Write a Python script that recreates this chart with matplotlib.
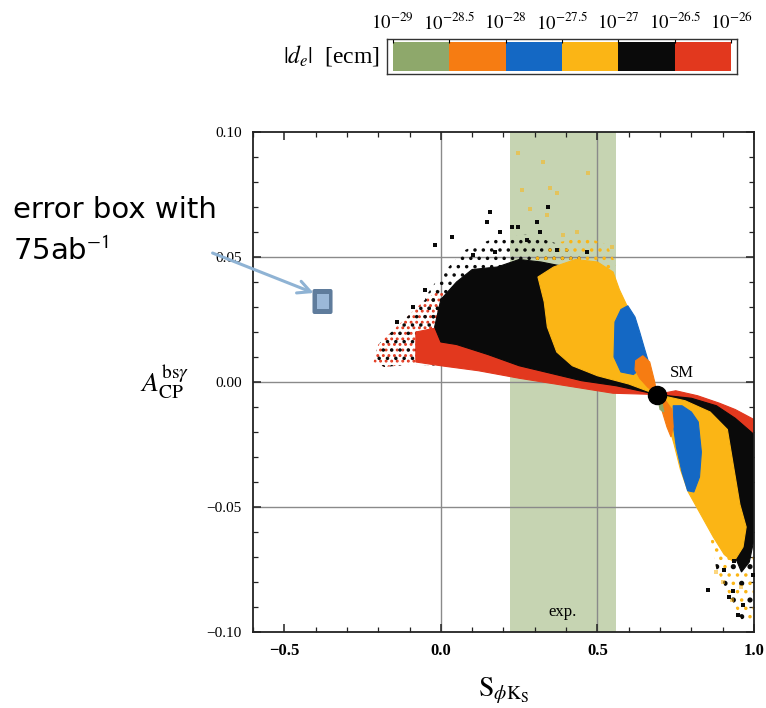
import matplotlib
matplotlib.use("Agg")
import matplotlib.pyplot as plt
from matplotlib.colors import ListedColormap
from matplotlib.patches import FancyBboxPatch, Rectangle
import numpy as np

plt.rcParams['font.family'] = ['Liberation Serif', 'DejaVu Serif']
plt.rcParams['mathtext.fontset'] = 'stix'
plt.rcParams['hatch.linewidth'] = 1.3

# |d_e| colour scale
de_labels = [r'$10^{-29}$', r'$10^{-28.5}$', r'$10^{-28}$', r'$10^{-27.5}$',
             r'$10^{-27}$', r'$10^{-26.5}$', r'$10^{-26}$']
de_colors = ['#8ea86b', '#f67c12', '#1468c4', '#fbb515', '#0a0a0a', '#e2381e']

# experimental band in S_phiKs and SM point
exp_band = (0.22, 0.56)
sm_point = (0.69, -0.005)

# error box with 75 ab^-1 (centre, half widths)
err_center = (-0.378, 0.0322)
err_half = (0.032, 0.005)

# scan regions, (S, A) outlines, upper fan
up_left_mix = [(-0.215, 0.008), (-0.2, 0.015), (-0.15, 0.021), (-0.1, 0.027), (-0.05, 0.033),
               (0.0, 0.037), (0.05, 0.03), (0.05, 0.006), (0.0, 0.0065), (-0.1, 0.007),
               (-0.18, 0.006)]
up_red = [(-0.08, 0.02), (0.0, 0.022), (0.1, 0.02), (0.2, 0.013), (0.35, 0.007),
          (0.5, 0.002), (0.69, -0.005), (0.55, -0.0045), (0.4, -0.0015), (0.25, 0.0015),
          (0.12, 0.0045), (0.0, 0.0065), (-0.08, 0.008)]
up_black_halo = [(-0.05, 0.034), (0.0, 0.043), (0.08, 0.053), (0.18, 0.058),
                 (0.28, 0.059), (0.38, 0.055), (0.45, 0.05), (0.4, 0.03), (0.2, 0.02),
                 (0.0, 0.02), (-0.05, 0.025)]
up_black = [(-0.02, 0.022), (0.0, 0.033), (0.05, 0.04), (0.1, 0.045),
            (0.18, 0.046), (0.25, 0.049), (0.32, 0.048), (0.4, 0.046), (0.46, 0.044),
            (0.52, 0.03), (0.57, 0.015), (0.63, 0.002), (0.69, -0.005), (0.56, -0.0015),
            (0.45, 0.0005), (0.35, 0.0035), (0.25, 0.0065), (0.15, 0.011), (0.05, 0.015),
            (0.0, 0.016)]
up_yellow_halo = [(0.3, 0.05), (0.38, 0.056), (0.46, 0.058), (0.53, 0.055), (0.56, 0.047),
                  (0.5, 0.04), (0.32, 0.04)]
up_yellow = [(0.31, 0.042), (0.36, 0.046), (0.43, 0.049), (0.5, 0.048), (0.55, 0.044),
             (0.57, 0.037), (0.6, 0.029), (0.63, 0.018), (0.66, 0.007), (0.69, -0.005),
             (0.6, -0.0008), (0.5, 0.0025), (0.42, 0.0065), (0.37, 0.012), (0.34, 0.022),
             (0.33, 0.032)]
up_blue = [(0.556, 0.024), (0.575, 0.029), (0.597, 0.0305), (0.62, 0.026), (0.635, 0.02),
           (0.65, 0.0135), (0.662, 0.0085), (0.64, 0.0055), (0.615, 0.003), (0.575, 0.004),
           (0.553, 0.01)]
up_orange = [(0.622, 0.0085), (0.645, 0.0105), (0.667, 0.008), (0.683, 0.0),
             (0.69, -0.005), (0.66, -0.002), (0.635, 0.0015), (0.62, 0.005)]

# lower fan
lo_red = [(0.69, -0.005), (0.75, -0.0035), (0.82, -0.0055), (0.89, -0.0085), (0.94, -0.011),
          (0.97, -0.013), (1.0, -0.015), (1.0, -0.036), (0.95, -0.03), (0.85, -0.02),
          (0.75, -0.011)]
lo_black = [(0.69, -0.005), (0.8, -0.0065), (0.88, -0.0095), (0.94, -0.0145), (1.0, -0.021),
            (1.0, -0.063), (0.985, -0.072), (0.96, -0.076), (0.94, -0.07), (0.945, -0.05),
            (0.915, -0.032), (0.87, -0.02), (0.8, -0.012), (0.72, -0.008)]
lo_tail = [(0.86, -0.062), (0.93, -0.068), (0.985, -0.066), (1.0, -0.07), (1.0, -0.095),
           (0.96, -0.095), (0.92, -0.085), (0.88, -0.075)]
lo_yellow = [(0.69, -0.005), (0.78, -0.0075), (0.86, -0.012), (0.915, -0.019), (0.935, -0.034),
             (0.955, -0.049), (0.975, -0.058), (0.965, -0.066), (0.935, -0.072), (0.905, -0.069),
             (0.87, -0.062), (0.83, -0.053), (0.79, -0.044), (0.765, -0.035), (0.745, -0.025),
             (0.72, -0.014)]
lo_blue = [(0.742, -0.0095), (0.77, -0.0095), (0.8, -0.012), (0.822, -0.016), (0.832, -0.028),
           (0.826, -0.038), (0.808, -0.044), (0.788, -0.0435), (0.77, -0.036), (0.752, -0.026),
           (0.742, -0.017)]
lo_orange = [(0.69, -0.005), (0.718, -0.0075), (0.738, -0.011), (0.742, -0.018),
             (0.735, -0.022), (0.722, -0.018), (0.705, -0.011)]
lo_green = [(0.69, -0.005), (0.705, -0.0075), (0.712, -0.012), (0.7, -0.011)]

# isolated points outside the dense clouds
black_pts_s = [0.157, 0.147, 0.343, 0.308, 0.035, 0.19, 0.228, 0.247, -0.02, 0.173, 0.276,
               0.317, 0.103, 0.468, 0.372, 0.965, 0.933, 0.853, 0.936, 0.958, 0.98, 0.904,
               0.997, 0.95, 0.92, -0.05, -0.09, -0.14]
black_pts_a = [0.068, 0.064, 0.070, 0.064, 0.058, 0.060, 0.062, 0.062, 0.055, 0.052, 0.057,
               0.060, 0.051, 0.052, 0.053, -0.089, -0.0836, -0.083, -0.0716, -0.071, -0.0676,
               -0.075, -0.077, -0.093, -0.086, 0.037, 0.03, 0.024]
yellow_pts_s = [0.247, 0.327, 0.471, 0.372, 0.35, 0.26, 0.285, 0.34, 0.548, 0.39, 0.436,
                0.9, 0.93, 0.96, 0.88]
yellow_pts_a = [0.0916, 0.088, 0.0836, 0.0756, 0.0776, 0.077, 0.069, 0.067, 0.054, 0.059,
                0.060, -0.08, -0.087, -0.082, -0.076]

x_ticks = [-0.5, 0.0, 0.5, 1.0]
y_ticks = [-0.10, -0.05, 0.00, 0.05, 0.10]

fig = plt.figure(figsize=(7.66, 7.08), dpi=100)
ax = fig.add_axes([253/766, 1 - 632/708, (754 - 253)/766, (632 - 132)/708])
ax.set_xlim(-0.6, 1.0)
ax.set_ylim(-0.1, 0.1)

ax.axvspan(exp_band[0], exp_band[1], color='#c6d4b2', lw=0, zorder=0)
for gx in [0.0, 0.5]:
    ax.axvline(gx, color='#8a8a8a', lw=1.0, zorder=1)
for gy in [-0.05, 0.0, 0.05]:
    ax.axhline(gy, color='#8a8a8a', lw=1.0, zorder=1)

def region(pts, c, z=2):
    xs, ys = zip(*pts)
    ax.fill(xs, ys, color=c, lw=0.8, zorder=z)

def speckle(pts, c, h='..', z=2):
    xs, ys = zip(*pts)
    ax.fill(xs, ys, facecolor='none', edgecolor=c, hatch=h, lw=0, zorder=z)

speckle(up_black_halo, de_colors[4], '..')
speckle(up_yellow_halo, de_colors[3], '..')
speckle(up_left_mix, de_colors[5], '...')
speckle(up_left_mix, de_colors[4], '..')
region(up_red, de_colors[5])
region(up_black, de_colors[4])
region(up_yellow, de_colors[3])
region(up_blue, de_colors[2])
region(up_orange, de_colors[1])
speckle(lo_tail, de_colors[3], '..')
speckle(lo_tail, de_colors[4], '.')
region(lo_red, de_colors[5])
region(lo_black, de_colors[4])
region(lo_yellow, de_colors[3])
region(lo_blue, de_colors[2])
region(lo_orange, de_colors[1])
region(lo_green, de_colors[0])

ax.scatter(yellow_pts_s, yellow_pts_a, s=7, marker='s', color=de_colors[3], alpha=0.55, lw=0, zorder=3)
ax.scatter(black_pts_s, black_pts_a, s=7, marker='s', color=de_colors[4], lw=0, zorder=3)

ax.plot(*sm_point, 'o', color='black', ms=13, zorder=5)
ax.text(0.77, 0.0035, 'SM', fontsize=12, ha='center', va='center', zorder=5)
ax.text(0.39, -0.092, 'exp.', fontsize=12, ha='center', va='center', zorder=5)

# error box
ex, ey = err_center
hx, hy = err_half
ax.add_patch(FancyBboxPatch((ex - hx, ey - hy), 2*hx, 2*hy,
                            boxstyle='round,pad=0,rounding_size=0.006',
                            mutation_aspect=0.15, fc='#5f7c9c', ec='none', zorder=6))
ax.add_patch(Rectangle((ex - 0.6*hx, ey - 0.62*hy), 1.2*hx, 1.24*hy,
                       fc='#9bb8d8', ec='none', zorder=7))

ax.annotate('', xy=(ex - 0.02, ey + 0.003), xytext=(210/766, 1 - 252/708),
            textcoords='figure fraction',
            arrowprops=dict(arrowstyle='->,head_length=0.9,head_width=0.45',
                            color='#8fb3d4', lw=2.2),
            annotation_clip=False, zorder=8)
fig.text(13/766, 1 - 210/708, 'error box with', fontsize=21, family='DejaVu Sans',
         va='center', ha='left')
fig.text(13/766, 1 - 252/708, '75ab$^{\\mathsf{-1}}$', fontsize=21, family='DejaVu Sans',
         va='center', ha='left')

ax.set_xticks(x_ticks)
ax.set_xticklabels(['\u22120.5', '0.0', '0.5', '1.0'], fontsize=12, fontweight='bold')
ax.set_yticks(y_ticks)
ax.set_yticklabels(['\u22120.10', '\u22120.05', '0.00', '0.05', '0.10'], fontsize=11)
ax.set_xticks(np.arange(-0.6, 1.001, 0.1), minor=True)
ax.set_yticks(np.arange(-0.1, 0.1001, 0.01), minor=True)
ax.tick_params(which='both', direction='in', top=True, right=True, color='#222222')
ax.tick_params(which='major', length=6, width=1.1, pad=8)
ax.tick_params(which='minor', length=3.5, width=0.9)
for sp in ax.spines.values():
    sp.set_linewidth(1.3)
    sp.set_color('#222222')

ax.set_xlabel(r'$\mathrm{S}_{\phi\mathrm{K_S}}$', fontsize=20, labelpad=12)
ax.set_ylabel(r'$A_{\mathrm{CP}}^{\mathrm{bs}\gamma}$', fontsize=20, rotation=0,
              labelpad=30, va='center')

# colour legend bar
cax = fig.add_axes([387/766, 1 - 74/708, (737 - 387)/766, (74 - 39)/708])
cax.pcolormesh(np.arange(7), [0, 1], np.arange(6).reshape(1, 6),
               cmap=ListedColormap(de_colors), vmin=-0.5, vmax=5.5)
cax.set_xlim(-0.1, 6.1)
cax.set_ylim(-0.12, 1.12)
cax.set_yticks([])
cax.set_xticks(range(7))
cax.set_xticklabels(de_labels, fontsize=13.5)
cax.tick_params(axis='x', top=True, labeltop=True, bottom=False, labelbottom=False,
                direction='in', length=3, pad=4)
for sp in cax.spines.values():
    sp.set_linewidth(1.0)
    sp.set_color('#333333')
fig.text(380/766, 1 - 56/708, r'$|d_e|$  [ecm]', fontsize=17, ha='right', va='center')

fig.savefig('out.png', dpi=100)
